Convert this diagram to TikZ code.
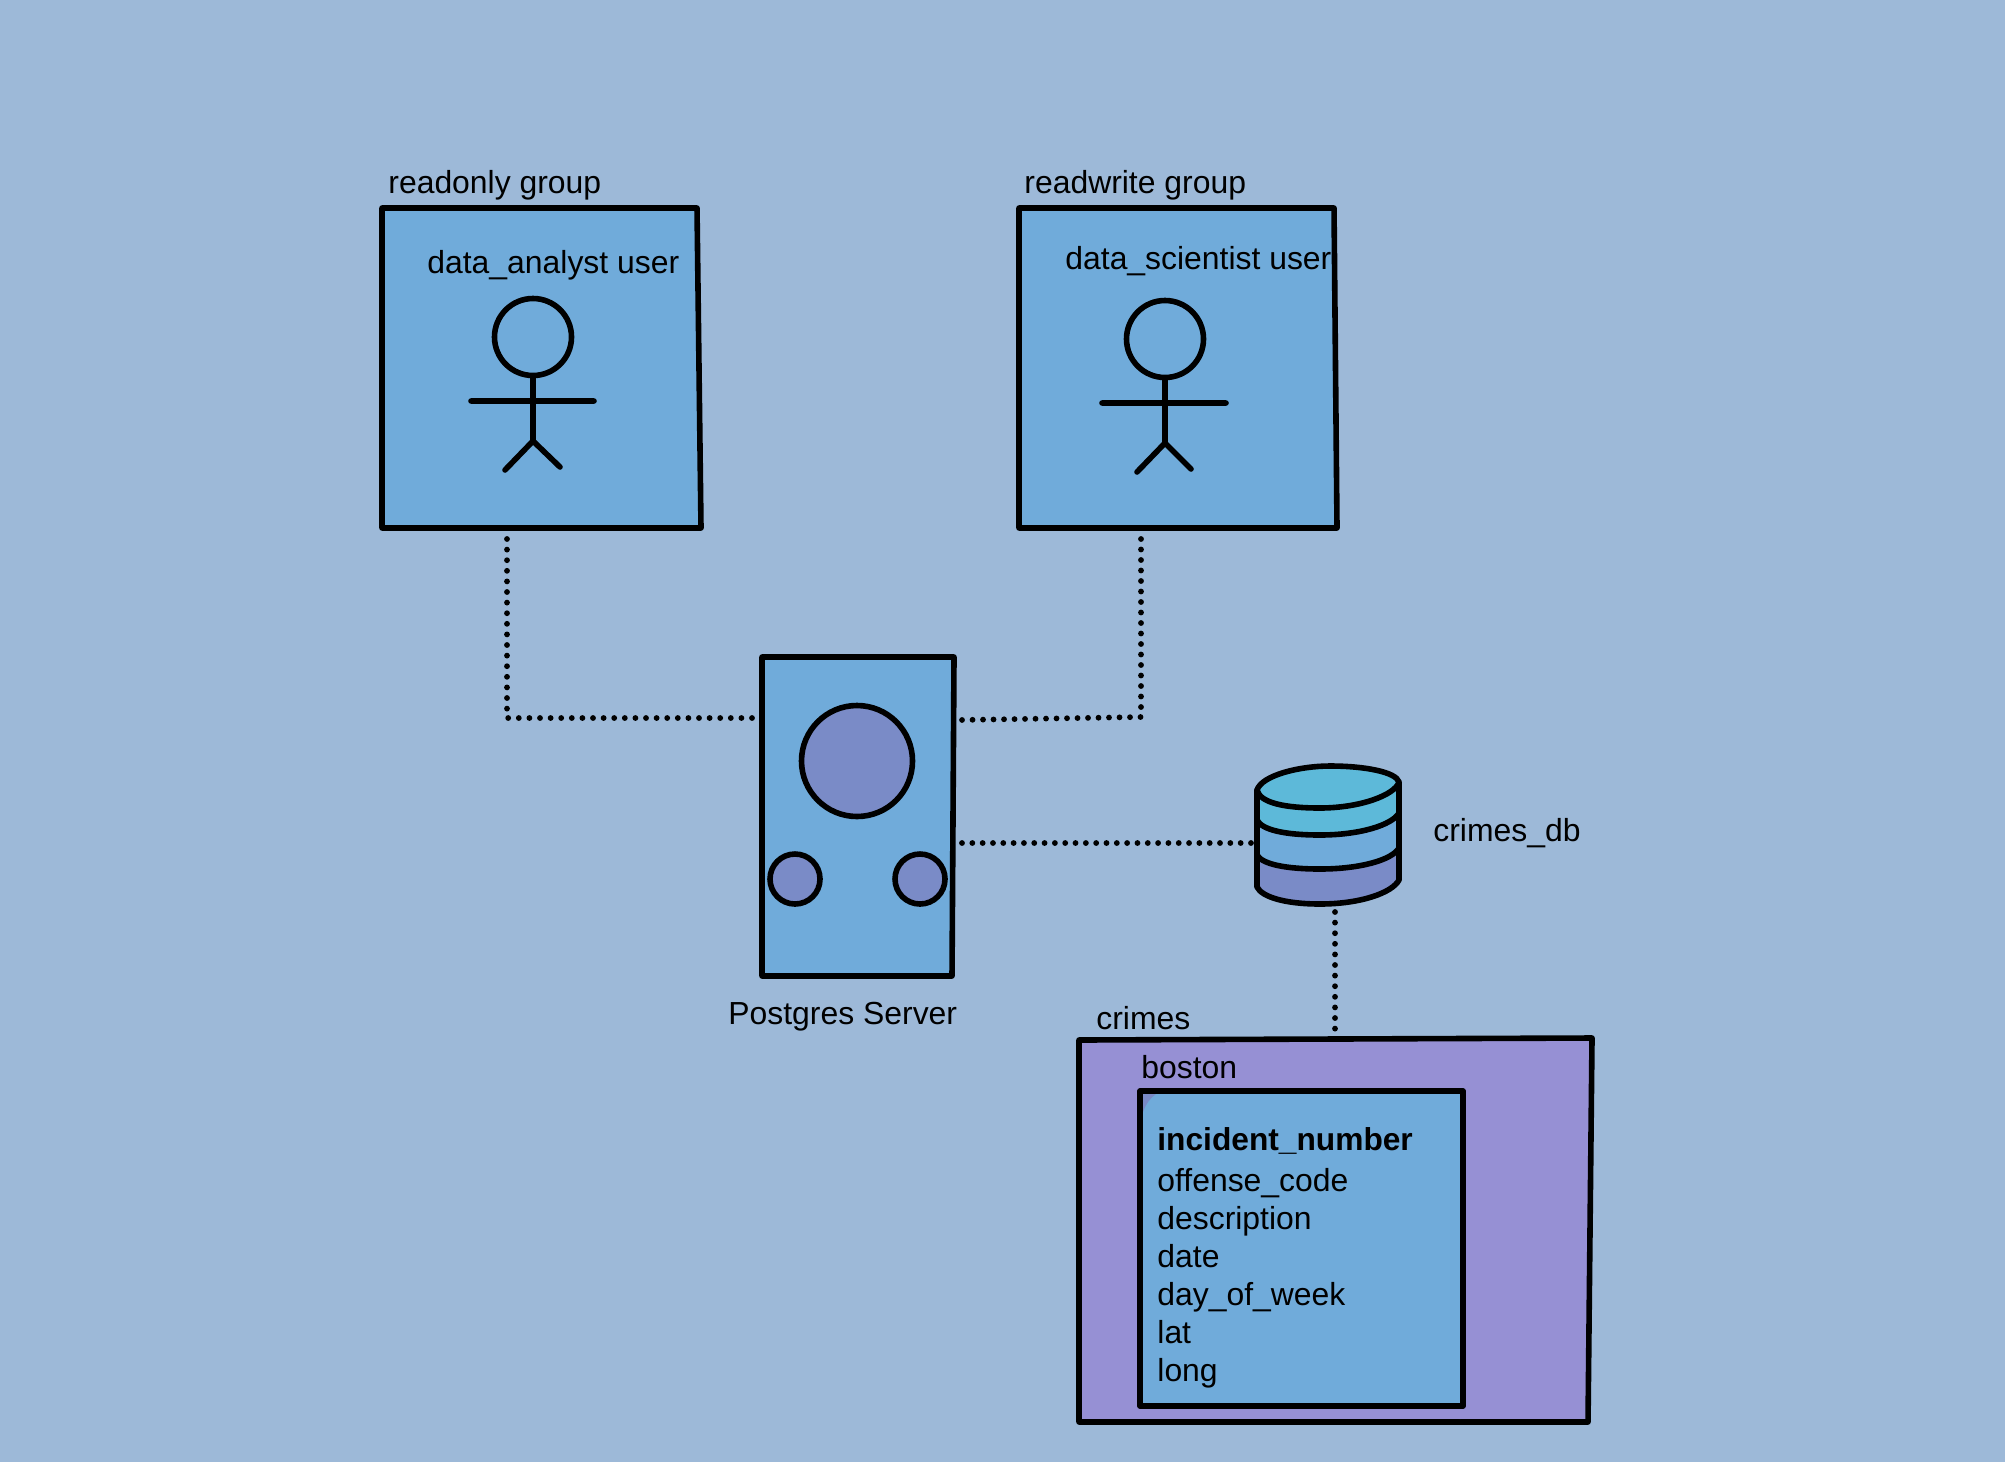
\documentclass[tikz,border=0pt]{standalone}
\usepackage{fontspec}
\setmainfont{Liberation Sans}
\definecolor{bgblue}{HTML}{9DB9D8}
\definecolor{boxblue}{HTML}{70ABDA}
\definecolor{periw}{HTML}{7A8BC7}
\definecolor{dbtop}{HTML}{5DB9D9}
\definecolor{crimep}{HTML}{9690D4}
\tikzset{
  outline/.style={draw=black,line width=2.8pt,line join=round,line cap=round},
  boxfill/.style={fill=boxblue},
  dotline/.style={draw=black,line width=2.9pt,line cap=round,dash pattern=on 0pt off 5.3pt},
  dotlinemid/.style={dotline,dash pattern=on 0pt off 5.25pt},
  dotlinetight/.style={dotline,dash pattern=on 0pt off 5.16pt},
  lbl/.style={anchor=base west,inner sep=0pt,text=black,font=\fontsize{15.95}{19}\selectfont},
  boldlbl/.style={lbl,font=\fontsize{15.85}{19}\selectfont\bfseries},
}
\begin{document}
\begin{tikzpicture}[x=0.5pt,y=-0.5pt]
\useasboundingbox (0,0) rectangle (2005,1462);
\fill[bgblue] (0,0) rectangle (2005,1462);

% readonly group
\fill[boxfill] (382,208) -- (697,208) -- (701,528) -- (382,528) -- cycle;
\node[lbl] (rolabel) at (388,193) {readonly group};
\node[lbl] (dauser) at (427,273) {data\_analyst user};
\draw[outline] (382,208) -- (697,208) -- (701,528) -- (382,528) -- cycle;
\draw[outline] (533,337) circle[radius=38.5];
\draw[outline] (533,376) -- (533,441) (471,401) -- (594,401) (505,470) -- (533,441) -- (560,467);

% readwrite group
\fill[boxfill] (1019,208) -- (1334,208) -- (1337,528) -- (1019,528) -- cycle;
\node[lbl] (rwlabel) at (1024,193) {readwrite group};
\node[lbl] (dsuser) at (1065,269) {data\_scientist user};
\draw[outline] (1019,208) -- (1334,208) -- (1337,528) -- (1019,528) -- cycle;
\draw[outline] (1165,339) circle[radius=38.5];
\draw[outline] (1165,378) -- (1165,443) (1102,403) -- (1226,403) (1137,472) -- (1165,443) -- (1191,469);

% server
\draw[outline,boxfill] (762,657) -- (954,657) -- (952,976) -- (762,976) -- cycle;
\draw[outline,fill=periw] (857,761) circle[radius=55.5];
\draw[outline,fill=periw] (795,879) circle[radius=25];
\draw[outline,fill=periw] (920,879) circle[radius=25];
\node[lbl] (serverlabel) at (728,1024) {Postgres Server};

% database
\draw[outline,fill=periw] (1257,855) -- (1257,887) .. controls (1262,897) and (1285,904) .. (1320,904) .. controls (1360,904) and (1392,893) .. (1399,880) -- (1399,848) -- cycle;
\draw[outline,boxfill] (1257,820) -- (1257,855) .. controls (1262,864) and (1285,869) .. (1320,869) .. controls (1360,869) and (1392,860) .. (1399,848) -- (1399,813) -- cycle;
\draw[outline,fill=dbtop] (1257,790) -- (1257,820) .. controls (1262,830) and (1285,835) .. (1320,835) .. controls (1360,835) and (1392,825) .. (1399,813) -- (1399,782) -- cycle;
\draw[outline,fill=dbtop] (1257,790) .. controls (1262,775) and (1300,766) .. (1330,766) .. controls (1365,766) and (1396,772) .. (1399,782) .. controls (1395,795) and (1360,808) .. (1320,808) .. controls (1285,808) and (1260,803) .. (1257,790) -- cycle;
\node[lbl] (dblabel) at (1433,841) {crimes\_db};

% crimes schema
\node[lbl] (crimeslabel) at (1096,1029) {crimes};
\draw[outline,fill=crimep] (1079,1040) -- (1592,1038) -- (1588,1422) -- (1079,1422) -- cycle;
\node[lbl] (bostonlabel) at (1141,1078) {boston};
\fill[crimep] (1452,1403) -- (1463,1403) -- (1460,1419) .. controls (1456,1419) and (1453,1412) .. (1452,1403) -- cycle;
\draw[outline,boxfill] (1140,1091) -- (1463,1091) -- (1463,1406) -- (1140,1406) -- cycle;
\fill[periw] (1143,1094) -- (1156,1094) .. controls (1150,1098) and (1146,1104) .. (1143,1112) -- cycle;
\node[boldlbl] (f1) at (1157,1150) {incident\_number};
\node[lbl] (f2) at (1157,1191) {offense\_code};
\node[lbl] (f3) at (1157,1229) {description};
\node[lbl] (f4) at (1157,1267) {date};
\node[lbl] (f5) at (1157,1305) {day\_of\_week};
\node[lbl] (f6) at (1157,1343) {lat};
\node[lbl] (f7) at (1157,1381) {long};

% connectors
\coordinate (roA) at (507,539);
\coordinate (roB) at (507,718);
\coordinate (roC) at (755,718);
\coordinate (rwA) at (1141,539);
\coordinate (rwB) at (1141,717);
\coordinate (rwC) at (960,720);
\coordinate (svD) at (962,843);
\coordinate (dbL) at (1254,843);
\coordinate (dbB) at (1335,912);
\coordinate (crT) at (1335,1032);
\draw[dotline] (roA) -- (roB) -- (roC);
\draw[dotlinemid] (rwA) -- (rwB) -- (rwC);
\draw[dotlinetight] (svD) -- (dbL);
\draw[dotline] (dbB) -- (crT);
\end{tikzpicture}
\end{document}
